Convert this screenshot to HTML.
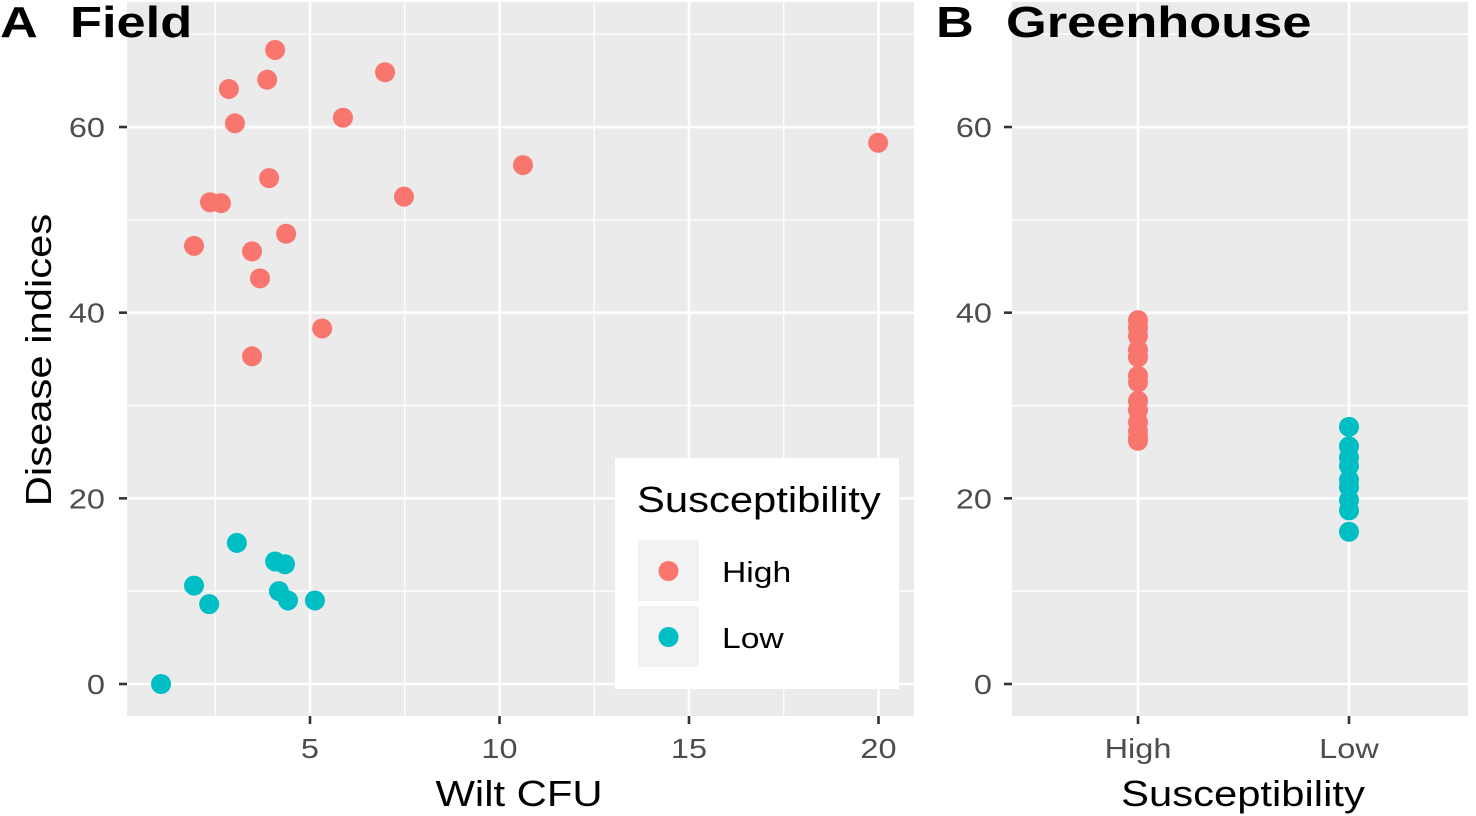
<!DOCTYPE html>
<html><head><meta charset="utf-8"><style>
body{margin:0;background:#fff}
svg{display:block;font-family:"Liberation Sans",sans-serif}
</style></head><body>
<svg id="c" width="1476" height="816" xmlns="http://www.w3.org/2000/svg"></svg>
<script>
const fieldHighX=[4.08,3.87,2.86,6.98,3.02,5.87,19.99,10.62,3.92,7.48,2.36,2.65,4.37,1.94,3.47,3.68,5.32,3.47];
const fieldHighY=[68.3,65.1,64.1,65.9,60.4,61.0,58.3,55.9,54.5,52.5,51.9,51.8,48.5,47.2,46.6,43.7,38.3,35.3];
const fieldLowX=[3.07,4.08,4.34,1.94,2.34,4.18,4.42,5.13,1.07];
const fieldLowY=[15.2,13.2,12.9,10.6,8.6,10.0,9.0,9.0,0];
const ghHigh=[39.2,38.4,37.5,36.0,35.2,33.2,32.5,30.5,29.5,28.2,27.2,26.5,26.2];
const ghLow=[27.7,25.6,24.4,23.5,22.0,21.2,19.8,18.7,16.4];
const xTicks=[5,10,15,20];
const xMinor=[2.5,7.5,12.5,17.5];
const yTicks=[0,20,40,60];
const yMinor=[10,30,50,70];
const cats=["High","Low"];
const RED="#F8766D",CYAN="#00BFC4";
const svg=document.getElementById('c');
const NS="http://www.w3.org/2000/svg";
function mk(t,a,p){const e=document.createElementNS(NS,t);for(const k in a)e.setAttribute(k,a[k]);(p||svg).appendChild(e);return e;}
const yS=v=>684-9.283*v;
const xS=v=>120.5+37.9*v;
const cS=c=>c==="High"?1138:1349;
const plotTop=2,plotBot=716;
// panel A
const gA=mk('g',{});


mk('rect',{x:127,y:plotTop,width:787,height:plotBot-plotTop,fill:'#EBEBEB'},gA);
yMinor.forEach(v=>mk('line',{x1:127,x2:914,y1:yS(v),y2:yS(v),stroke:'#fff','stroke-width':1.3},gA));
xMinor.forEach(v=>mk('line',{x1:xS(v),x2:xS(v),y1:plotTop,y2:plotBot,stroke:'#fff','stroke-width':1.3},gA));
yTicks.forEach(v=>{mk('line',{x1:127,x2:914,y1:yS(v),y2:yS(v),stroke:'#fff','stroke-width':2.6},gA);
 mk('line',{x1:119,x2:127,y1:yS(v),y2:yS(v),stroke:'#333','stroke-width':2.6},gA);
 const t=mk('text',{x:105,y:yS(v)+10,'text-anchor':'end','font-size':28,fill:'#4D4D4D'},gA);t.textContent=v;
 });
xTicks.forEach(v=>{mk('line',{x1:xS(v),x2:xS(v),y1:plotTop,y2:plotBot,stroke:'#fff','stroke-width':2.6},gA);
 mk('line',{x1:xS(v),x2:xS(v),y1:plotBot,y2:plotBot+8,stroke:'#333','stroke-width':2.6},gA);
 const t=mk('text',{x:xS(v),y:758,'text-anchor':'middle','font-size':28,fill:'#4D4D4D'},gA);t.textContent=v;
 });
fieldHighX.forEach((x,i)=>{const c=mk('circle',{cx:xS(x),cy:yS(fieldHighY[i]),r:10,fill:RED},gA);
 });
fieldLowX.forEach((x,i)=>{const c=mk('circle',{cx:xS(x),cy:yS(fieldLowY[i]),r:10,fill:CYAN},gA);
 });
// legend
const lg=mk('g',{});


mk('rect',{x:615,y:458,width:284,height:231,fill:'#fff'},lg);
let t=mk('text',{x:637,y:512,'font-size':36,fill:'#000'},lg);t.textContent="Susceptibility";
[["High",RED,540],["Low",CYAN,606]].forEach(([l,col,y])=>{
 mk('rect',{x:638,y:y,width:61,height:61,fill:'#F2F2F2'},lg);
 mk('circle',{cx:668.5,cy:y+31,r:10,fill:col},lg);
 const tt=mk('text',{x:722,y:y+42,'font-size':29,fill:'#000'},lg);tt.textContent=l;
 });
t=mk('text',{x:519,y:806,'text-anchor':'middle','font-size':36,fill:'#000'});t.textContent="Wilt CFU";

t=mk('text',{x:0,y:0,'text-anchor':'middle','font-size':36,fill:'#000',transform:'translate(51,360) rotate(-90)'});t.textContent="Disease indices";

t=mk('text',{x:0,y:37,'font-size':44,'font-weight':'bold',fill:'#000'});t.textContent="A";
t=mk('text',{x:70,y:37,'font-size':44,'font-weight':'bold',fill:'#000'});t.textContent="Field";

// panel B
const gB=mk('g',{});


mk('rect',{x:1012,y:plotTop,width:456,height:plotBot-plotTop,fill:'#EBEBEB'},gB);
yMinor.forEach(v=>mk('line',{x1:1012,x2:1468,y1:yS(v),y2:yS(v),stroke:'#fff','stroke-width':1.3},gB));
yTicks.forEach(v=>{mk('line',{x1:1012,x2:1468,y1:yS(v),y2:yS(v),stroke:'#fff','stroke-width':2.6},gB);
 mk('line',{x1:1004,x2:1012,y1:yS(v),y2:yS(v),stroke:'#333','stroke-width':2.6},gB);
 const tt=mk('text',{x:992,y:yS(v)+10,'text-anchor':'end','font-size':28,fill:'#4D4D4D'},gB);tt.textContent=v;
 });
cats.forEach(c=>{mk('line',{x1:cS(c),x2:cS(c),y1:plotTop,y2:plotBot,stroke:'#fff','stroke-width':2.6},gB);
 mk('line',{x1:cS(c),x2:cS(c),y1:plotBot,y2:plotBot+8,stroke:'#333','stroke-width':2.6},gB);
 const tt=mk('text',{x:cS(c),y:758,'text-anchor':'middle','font-size':28,fill:'#4D4D4D'},gB);tt.textContent=c;
 });
ghHigh.forEach(v=>{const c=mk('circle',{cx:cS("High"),cy:yS(v),r:10,fill:RED},gB);
 });
ghLow.forEach(v=>{const c=mk('circle',{cx:cS("Low"),cy:yS(v),r:10,fill:CYAN},gB);
 });
t=mk('text',{x:1243,y:806,'text-anchor':'middle','font-size':36,fill:'#000'});t.textContent="Susceptibility";

t=mk('text',{x:936,y:37,'font-size':44,'font-weight':'bold',fill:'#000'});t.textContent="B";
t=mk('text',{x:1006,y:37,'font-size':44,'font-weight':'bold',fill:'#000'});t.textContent="Greenhouse";

// widen text to match reference glyph widths
svg.querySelectorAll('text').forEach(el=>{
 const f=el.getAttribute('font-weight')==='bold'?1.19:1.16;
 const w=el.getComputedTextLength();
 el.setAttribute('textLength',(w*f).toFixed(1));
 el.setAttribute('lengthAdjust','spacingAndGlyphs');
});
</script>
</body></html>
